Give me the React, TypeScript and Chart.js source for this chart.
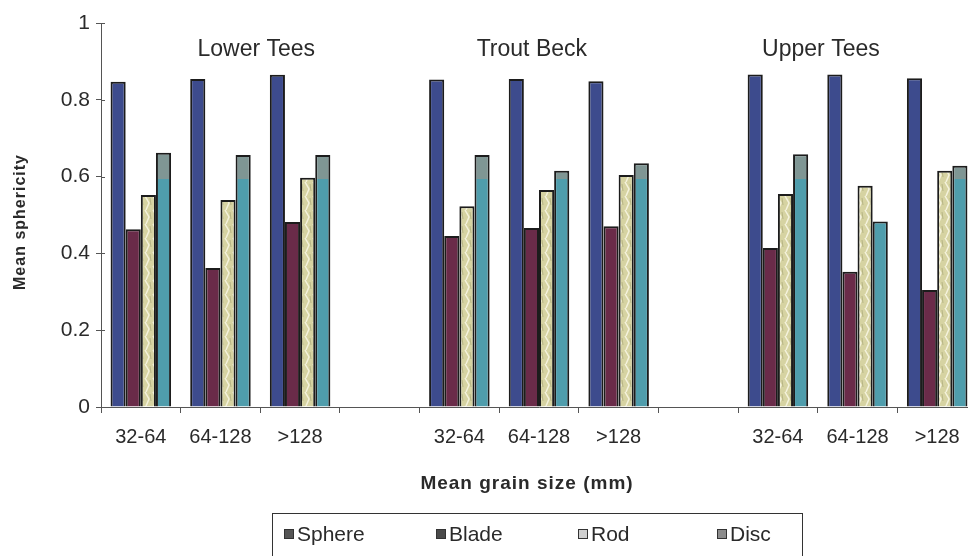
import React, { useEffect, useRef } from 'react';
import { Chart, registerables } from 'chart.js';

Chart.register(...registerables);

const categories = ['32-64', '64-128', '>128', '', '32-64', '64-128', '>128', '', '32-64', '64-128', '>128'];
const sphere = [0.847, 0.854, 0.865, null, 0.853, 0.854, 0.848, null, 0.866, 0.866, 0.856];
const blade = [0.463, 0.362, 0.482, null, 0.445, 0.466, 0.471, null, 0.414, 0.352, 0.305];
const rod = [0.552, 0.539, 0.597, null, 0.523, 0.565, 0.604, null, 0.555, 0.576, 0.615];
const disc = [0.662, 0.656, 0.656, null, 0.656, 0.615, 0.635, null, 0.658, 0.483, 0.628];
const seriesNames = ['Sphere', 'Blade', 'Rod', 'Disc'];
const groupTitles = ['Lower Tees', 'Trout Beck', 'Upper Tees'];
const groupTitlePos = [1.45, 4.91, 8.54];
const groupTitleY = 0.93;
const yTicks = [0, 0.2, 0.4, 0.6, 0.8, 1];
const xTitle = 'Mean grain size (mm)';
const yTitle = 'Mean sphericity';

const FONT = '"Liberation Sans", Arial, sans-serif';
const TEXT = '#2a2a2a';
const AXIS = '#555';

function makeRodPattern(): CanvasPattern | string {
  const c = document.createElement('canvas');
  c.width = 8;
  c.height = 14;
  const g = c.getContext('2d');
  if (!g) return '#dad7aa';
  g.fillStyle = '#d6d3a2';
  g.fillRect(0, 0, 8, 14);
  g.strokeStyle = '#f4f2dc';
  g.lineWidth = 1.5;
  g.beginPath();
  g.moveTo(1, 0);
  g.lineTo(5, 7);
  g.lineTo(2, 14);
  g.stroke();
  g.strokeStyle = '#b7b585';
  g.lineWidth = 1;
  g.beginPath();
  g.moveTo(6, 2);
  g.lineTo(7, 9);
  g.stroke();
  const p = g.createPattern(c, 'repeat');
  return p || '#dad7aa';
}

const overlayPlugin = {
  id: 'overlay',
  afterDraw(chart: any) {
    const { ctx, scales, chartArea } = chart;
    const x = scales.x;
    const y = scales.y;
    ctx.save();
    // inward tick stubs on y axis
    ctx.strokeStyle = AXIS;
    ctx.lineWidth = 1;
    yTicks.forEach((v) => {
      const py = Math.round(y.getPixelForValue(v)) + 0.5;
      ctx.beginPath();
      ctx.moveTo(chartArea.left, py);
      ctx.lineTo(chartArea.left + 4, py);
      ctx.stroke();
    });
    // group titles
    const c0 = x.getPixelForValue(0);
    const c1 = x.getPixelForValue(1);
    ctx.fillStyle = TEXT;
    ctx.font = `23px ${FONT}`;
    ctx.textAlign = 'center';
    ctx.textBaseline = 'middle';
    groupTitles.forEach((t, i) => {
      const px = c0 + groupTitlePos[i] * (c1 - c0);
      ctx.fillText(t, px, y.getPixelForValue(groupTitleY));
    });
    // x title
    ctx.font = `bold 19px ${FONT}`;
    (ctx as any).letterSpacing = '1px';
    ctx.fillText(xTitle, 527, 484);
    // y title
    ctx.save();
    ctx.translate(21, 222);
    ctx.rotate(-Math.PI / 2);
    ctx.font = `bold 16px ${FONT}`;
    ctx.fillText(yTitle, 0, 0);
    ctx.restore();
    (ctx as any).letterSpacing = '0px';
    // legend box
    ctx.strokeStyle = '#333';
    ctx.lineWidth = 1;
    ctx.strokeRect(272.5, 513.5, 530, 60);
    const legendX = [297, 449, 591, 730];
    const legendFill = ['#555', '#4a4a4a', '#cfcfcf', '#8c8c8c'];
    ctx.font = `21px ${FONT}`;
    ctx.textAlign = 'left';
    seriesNames.forEach((n, i) => {
      const lx = legendX[i];
      ctx.fillStyle = legendFill[i];
      ctx.fillRect(lx - 13, 529, 10, 10);
      ctx.strokeStyle = '#333';
      ctx.strokeRect(lx - 12.5, 529.5, 9, 9);
      ctx.fillStyle = TEXT;
      ctx.fillText(n, lx, 535);
    });
    ctx.restore();
  },
};

export default function App() {
  const ref = useRef<HTMLCanvasElement | null>(null);
  useEffect(() => {
    if (!ref.current) return;
    const rodPattern = makeRodPattern();
    const discFill = (c: any) => {
      const chart = c.chart;
      const area = chart.chartArea;
      if (!area) return '#4f9dac';
      const g = chart.ctx.createLinearGradient(0, area.top, 0, area.bottom);
      const split = (chart.scales.y.getPixelForValue(0.594) - area.top) / (area.bottom - area.top);
      g.addColorStop(0, '#7f9694');
      g.addColorStop(split, '#7f9694');
      g.addColorStop(split, '#4f9dac');
      g.addColorStop(1, '#4f9dac');
      return g;
    };
    const common = { borderColor: '#1c1c1c', borderWidth: 2, categoryPercentage: 0.76, barPercentage: 1.0 };
    const chart = new Chart(ref.current, {
      type: 'bar',
      data: {
        labels: categories,
        datasets: [
          { label: seriesNames[0], data: sphere, backgroundColor: '#3d4b8d', ...common },
          { label: seriesNames[1], data: blade, backgroundColor: '#6a2b49', ...common },
          { label: seriesNames[2], data: rod, backgroundColor: rodPattern as any, ...common },
          { label: seriesNames[3], data: disc, backgroundColor: discFill, ...common },
        ],
      },
      options: {
        responsive: false,
        animation: false,
        devicePixelRatio: 1,
        layout: { padding: { left: 0, right: 23, top: 23, bottom: 0 } },
        plugins: { legend: { display: false }, tooltip: { enabled: false }, title: { display: false } },
        scales: {
          x: {
            afterFit: (s: any) => { s.height = 149; },
            grid: { display: true, drawOnChartArea: false, drawTicks: true, tickLength: 6, color: AXIS, offset: true },
            border: { display: true, color: AXIS, width: 1 },
            ticks: { color: TEXT, font: { family: FONT, size: 20 }, padding: 12, maxRotation: 0, autoSkip: false },
          },
          y: {
            min: 0,
            max: 1,
            afterFit: (s: any) => { s.width = 101; },
            afterBuildTicks: (s: any) => { s.ticks = yTicks.map((v) => ({ value: v })); },
            grid: { display: true, drawOnChartArea: false, drawTicks: true, tickLength: 5, color: AXIS },
            border: { display: true, color: AXIS, width: 1 },
            ticks: {
              color: TEXT,
              font: { family: FONT, size: 21 },
              padding: 6,
              callback: (v: any) => String(Number(Number(v).toFixed(1))),
            },
          },
        },
      },
      plugins: [overlayPlugin],
    });
    return () => chart.destroy();
  }, []);
  return (
    <div style={{ position: 'fixed', left: 0, top: 0, width: 968, height: 556, overflow: 'hidden', background: '#fff' }}>
      <canvas ref={ref} width={1000} height={556} style={{ display: 'block' }} />
    </div>
  );
}
